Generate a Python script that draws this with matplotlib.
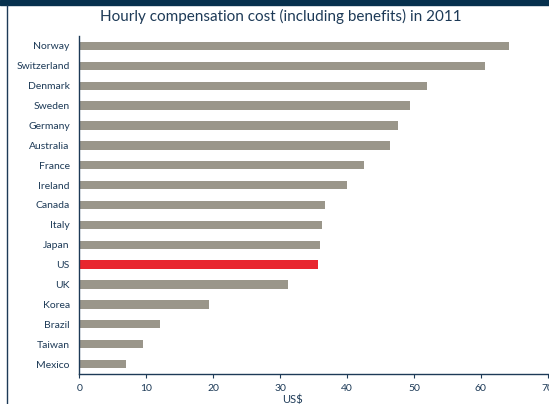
import matplotlib.pyplot as plt
from matplotlib.lines import Line2D
from matplotlib.patches import Rectangle

# Data (US$ per hour, 2011)
countries = ["Norway", "Switzerland", "Denmark", "Sweden", "Germany", "Australia",
             "France", "Ireland", "Canada", "Italy", "Japan", "US", "UK",
             "Korea", "Brazil", "Taiwan", "Mexico"]
costs = [64.2, 60.7, 51.9, 49.4, 47.6, 46.4, 42.5, 40.0, 36.7, 36.3, 36.0,
         35.7, 31.2, 19.3, 12.0, 9.5, 7.0]
highlight = "US"

plt.rcParams["font.family"] = ["Lato", "DejaVu Sans"]

navy = "#1d3a57"
grey = "#9a968a"
red = "#e8262f"

fig = plt.figure(figsize=(5.49, 4.04), dpi=100)
ax = fig.add_axes([0.1448, 0.0743, 0.8527, 0.8366])

colors = [red if c == highlight else grey for c in countries]
ax.barh(range(len(countries)), costs, height=0.42, color=colors)

ax.set_ylim(len(countries) - 0.5, -0.5)
ax.set_xlim(0, 70)
ax.set_xticks(range(0, 71, 10))
ax.set_yticks(range(len(countries)))
ax.set_yticklabels(countries)

for s in ["top", "right"]:
    ax.spines[s].set_visible(False)
for s in ["left", "bottom"]:
    ax.spines[s].set_color(navy)
    ax.spines[s].set_linewidth(1.0)

ax.tick_params(axis="y", length=0, pad=7, labelsize=7.5, labelcolor=navy)
ax.tick_params(axis="x", length=3, direction="out", color=navy,
               labelsize=7.5, labelcolor=navy, pad=4)

ax.set_xlabel("US$", fontsize=8, color=navy, labelpad=3)
ax.xaxis.set_label_coords(0.456, -0.06)

fig.text(0.512, 0.958, "Hourly compensation cost (including benefits) in 2011",
         ha="center", va="center", fontsize=11, color=navy)

# decorative frame: top band and left rule
fig.patches.append(Rectangle((0, 0.988), 1, 0.012, transform=fig.transFigure,
                             color="#06304d", zorder=0))
fig.lines.append(Line2D([0.0135, 0.0135], [0, 0.988], transform=fig.transFigure,
                        color=navy, linewidth=1.0))

fig.savefig("out.png", dpi=100)
